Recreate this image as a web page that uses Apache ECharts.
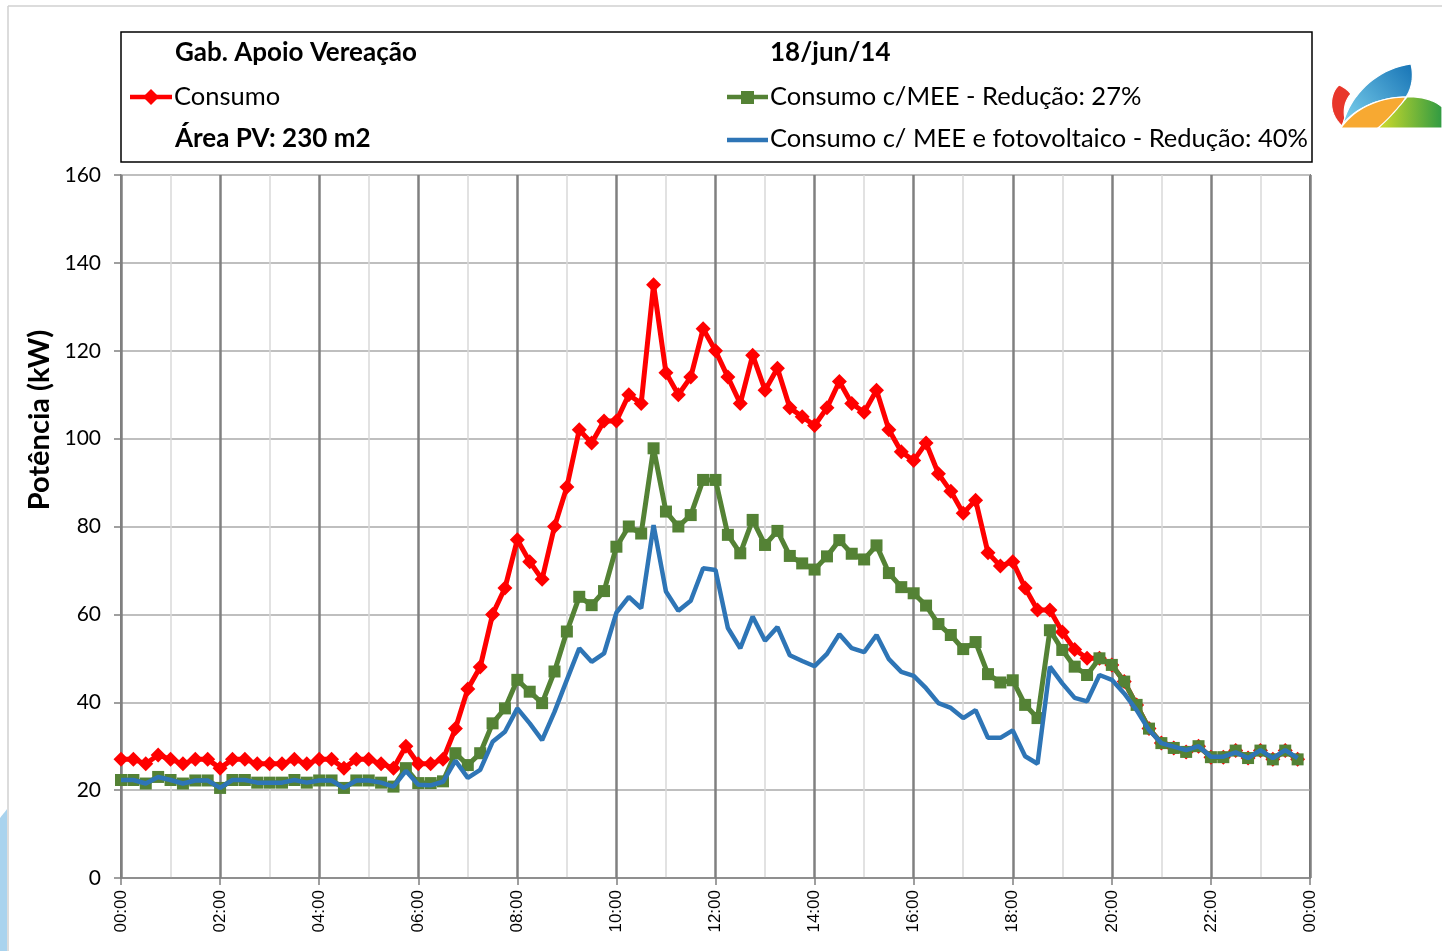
<!DOCTYPE html>
<html>
<head>
<meta charset="utf-8">
<title>Gab. Apoio Vereação – 18/jun/14</title>
<script src="https://cdn.jsdelivr.net/npm/echarts@6/dist/echarts.min.js"></script>
<style>
  html, body { margin: 0; padding: 0; background: #fff; }
  #chart { width: 1442px; height: 951px; }
</style>
</head>
<body>
<div id="chart"></div>
<script>
// 15-minute power readings (kW) for 18/jun/14, 00:00 .. 23:45
const consumo = [
  27, 27, 26, 28, 27, 26, 27, 27, 25, 27, 27, 26, 26, 26, 27, 26, 27, 27, 25, 27, 27, 26, 25, 30, 26, 26, 27,
  34, 43, 48, 60, 66, 77, 72, 68, 80, 89, 102, 99, 104, 104, 110, 108, 135, 115, 110, 114, 125, 120, 114, 108,
  119, 111, 116, 107, 105, 103, 107, 113, 108, 106, 111, 102, 97, 95, 99, 92, 88, 83, 86, 74, 71, 72, 66, 61,
  61, 56, 52, 50,
  50, 48.5, 44.7, 39.4, 34, 30.7, 29.6, 28.7, 30, 27.5, 27.5, 29, 27.3, 29, 27, 29, 27
];
const consumoMEE = [
  22.3, 22.3, 21.5, 23, 22.3, 21.5, 22.2, 22.2, 20.5, 22.3, 22.3, 21.7, 21.7, 21.7, 22.3, 21.7, 22.2, 22.2,
  20.5, 22.2, 22.2, 21.7, 20.8, 25, 21.6, 21.6, 22,
  28.4, 25.7, 28.4, 35.2, 38.6, 45.1, 42.4, 39.8, 47, 56.1,
  64, 62.1, 65.3, 75.4, 80, 78.4, 97.8, 83.4, 80, 82.6,
  90.6, 90.6, 78.1, 73.9, 81.5, 75.8, 79, 73.3, 71.6, 70.2,
  73.2, 76.9, 73.8, 72.5, 75.7, 69.4, 66.2, 64.8, 62, 57.8,
  55.3, 52.1, 53.7, 46.4, 44.5, 45, 39.4, 36.4, 56.4, 51.9,
  48.1, 46.2,
  50, 48.5, 44.7, 39.4, 34, 30.7, 29.6, 28.7, 30, 27.5, 27.5, 29, 27.3, 29, 27, 29, 27
];
const consumoMEEPV = [
  22.3, 22.3, 21.5, 23, 22.3, 21.5, 22.2, 22.2, 20.5, 22.3, 22.3, 21.7, 21.7, 21.7, 22.3, 21.7, 22.2, 22.2,
  20.5, 22.2, 22.2, 21.7, 20.8, 24.4, 21.2, 21.1, 21.9,
  26.7, 22.8, 24.6, 31, 33.3, 38.6, 35.2, 31.4, 37.8, 45.1,
  52.3, 49.2, 51.1, 60.4, 64, 61.4, 80.3, 65.2, 60.8, 63.1,
  70.5, 70.1, 56.9, 52.3, 59.5, 54, 57.1, 50.7, 49.4, 48.2,
  51, 55.5, 52.3, 51.4, 55.3, 49.8, 46.9, 46, 43.2, 39.8,
  38.7, 36.4, 38.2, 31.9, 31.9, 33.6, 27.7, 26, 48.1, 44.3,
  41, 40.2, 46.2, 45.1, 42, 38.2, 33.7, 30.7, 29.9, 29.1,
  30, 27.6, 27.6, 28.6, 27.3, 29.1, 27.3, 29.1, 27.3
];

const seriesNames = [
  'Consumo',
  'Consumo c/MEE - Redução: 27%',
  'Consumo c/ MEE e fotovoltaico - Redução: 40%'
];
const yTicks = [0, 20, 40, 60, 80, 100, 120, 140, 160];
const STEP_HOURS = 0.25;

const colors = { red: '#FF0000', green: '#548235', blue: '#2E75B6' };

// reading time (hours since midnight) for each sample
const hours = consumo.map((_, i) => i * STEP_HOURS);
const pairs = arr => arr.map((v, i) => [hours[i], v]);

const hhmm = v => String(Math.round(v) % 24).padStart(2, '0') + ':00';

// Flattens a chain of cubic Bézier segments into polygon points for the emblem.
function bezierOutline(start, segments, steps) {
  const pts = [start];
  let p0 = start;
  segments.forEach(seg => {
    if (seg.length === 1) { pts.push(seg[0]); p0 = seg[0]; return; }
    const [c1, c2, p3] = seg;
    for (let k = 1; k <= steps; k++) {
      const t = k / steps, u = 1 - t;
      pts.push([
        u * u * u * p0[0] + 3 * u * u * t * c1[0] + 3 * u * t * t * c2[0] + t * t * t * p3[0],
        u * u * u * p0[1] + 3 * u * u * t * c1[1] + 3 * u * t * t * c2[1] + t * t * t * p3[1]
      ]);
    }
    p0 = p3;
  });
  return pts;
}

const leafRed = bezierOutline([1339, 85], [
  [[1330, 93], [1327, 112], [1342, 126]],
  [[1345, 119]],
  [[1343, 110], [1345, 100], [1351, 94]],
  [[1348, 90], [1344, 87], [1339, 85]]
], 16);
const leafBlue = bezierOutline([1343, 124], [
  [[1349, 98], [1374, 69], [1411, 64]],
  [[1414, 76], [1412, 88], [1406, 97]],
  [[1385, 97], [1358, 105], [1343, 124]]
], 20);
const leafOrange = bezierOutline([1341, 128], [
  [[1355, 107], [1382, 97], [1406, 97]],
  [[1397, 113], [1388, 123], [1378, 128]]
], 20);
const leafGreen = bezierOutline([1378, 128], [
  [[1392, 116], [1401, 104], [1407, 97]],
  [[1422, 96], [1436, 101], [1442, 107]],
  [[1442, 128]]
], 20);
const cornerShape = bezierOutline([0, 818], [
  [[2, 815], [5, 812], [7, 809]],
  [[7, 951]],
  [[0, 951]]
], 8);

const chart = echarts.init(document.getElementById('chart'), null, { renderer: 'canvas' });

const textFont = 'Lato, "Open Sans", sans-serif';
const keyFont = '25.5px ' + textFont;
const headFont = 'bold 26px ' + textFont;
const emblemEdge = { stroke: '#ffffff', lineWidth: 1.2 };

const option = {
  animation: false,
  backgroundColor: '#ffffff',
  grid: {
    left: 121, right: 132, top: 175, bottom: 73,
    show: true, borderColor: '#262626', borderWidth: 1.5, backgroundColor: 'transparent'
  },
  xAxis: {
    type: 'value',
    min: 0, max: 24, interval: 2,
    axisLine: { show: true, onZero: false, lineStyle: { color: '#808080', width: 1.5 } },
    axisTick: { show: true, length: 7, lineStyle: { color: '#808080', width: 1.5 } },
    axisLabel: {
      rotate: 90, margin: 12, color: '#000',
      fontFamily: '"Liberation Sans", Arial, sans-serif', fontSize: 17,
      formatter: hhmm
    },
    splitLine: { show: true, lineStyle: { color: '#808080', width: 2.5 } },
    minorTick: { show: false, splitNumber: 2 },
    minorSplitLine: { show: true, lineStyle: { color: '#d9d9d9', width: 1.5 } }
  },
  yAxis: {
    type: 'value',
    min: yTicks[0], max: yTicks[yTicks.length - 1], interval: yTicks[1] - yTicks[0],
    axisLine: { show: true, lineStyle: { color: '#808080', width: 1.5 } },
    axisTick: { show: true, length: 7, lineStyle: { color: '#808080', width: 1.5 } },
    axisLabel: { margin: 20, color: '#000', fontFamily: textFont, fontSize: 21 },
    splitLine: { show: true, lineStyle: { color: '#bfbfbf', width: 2 } }
  },
  series: [
    {
      name: seriesNames[0], type: 'line', data: pairs(consumo), z: 2,
      symbol: 'diamond', symbolSize: 15, showSymbol: true,
      lineStyle: { color: colors.red, width: 5 },
      itemStyle: { color: colors.red }
    },
    {
      name: seriesNames[1], type: 'line', data: pairs(consumoMEE), z: 3,
      symbol: 'rect', symbolSize: 12, showSymbol: true,
      lineStyle: { color: colors.green, width: 5 },
      itemStyle: { color: colors.green }
    },
    {
      name: seriesNames[2], type: 'line', data: pairs(consumoMEEPV), z: 4,
      symbol: 'none',
      lineStyle: { color: colors.blue, width: 4.5 },
      itemStyle: { color: colors.blue }
    }
  ],
  graphic: [
    // page frame
    { type: 'line', silent: true, shape: { x1: 8, y1: 6, x2: 1442, y2: 6 }, style: { stroke: '#d0d0d0', lineWidth: 1.5 } },
    { type: 'line', silent: true, shape: { x1: 8, y1: 6, x2: 8, y2: 951 }, style: { stroke: '#d0d0d0', lineWidth: 1.5 } },
    { type: 'polygon', silent: true, shape: { points: cornerShape }, style: { fill: '#a9d3ee' } },

    // header box
    { type: 'rect', silent: true, shape: { x: 121, y: 32, width: 1191, height: 130 }, style: { fill: 'none', stroke: '#000', lineWidth: 1.5 } },
    { type: 'text', x: 175, y: 53, style: { text: 'Gab. Apoio Vereação', font: headFont, fill: '#000', verticalAlign: 'middle' } },
    { type: 'text', x: 770, y: 53, style: { text: '18/jun/14', font: headFont, fill: '#000', verticalAlign: 'middle' } },
    { type: 'text', x: 175, y: 139, style: { text: 'Área PV: 230 m2', font: headFont, fill: '#000', verticalAlign: 'middle' } },

    // series keys
    { type: 'line', silent: true, shape: { x1: 130, y1: 97, x2: 172, y2: 97 }, style: { stroke: colors.red, lineWidth: 4.5 } },
    { type: 'polygon', silent: true, shape: { points: [[151, 89], [159, 97], [151, 105], [143, 97]] }, style: { fill: colors.red } },
    { type: 'text', x: 174, y: 97, style: { text: seriesNames[0], font: keyFont, fill: '#000', verticalAlign: 'middle' } },

    { type: 'line', silent: true, shape: { x1: 727, y1: 97, x2: 768, y2: 97 }, style: { stroke: colors.green, lineWidth: 4.5 } },
    { type: 'rect', silent: true, shape: { x: 741, y: 91, width: 13, height: 13 }, style: { fill: colors.green } },
    { type: 'text', x: 770, y: 97, style: { text: seriesNames[1], font: keyFont, fill: '#000', verticalAlign: 'middle' } },

    { type: 'line', silent: true, shape: { x1: 727, y1: 140, x2: 768, y2: 140 }, style: { stroke: colors.blue, lineWidth: 4.5 } },
    { type: 'text', x: 770, y: 139, style: { text: seriesNames[2], font: keyFont, fill: '#000', verticalAlign: 'middle' } },

    // y axis title
    {
      type: 'text', x: 40, y: 420, rotation: Math.PI / 2,
      style: { text: 'Potência (kW)', font: 'bold 29px ' + textFont, fill: '#000', align: 'center', verticalAlign: 'middle' }
    },

    // emblem
    { type: 'polygon', silent: true, shape: { points: leafRed }, style: Object.assign({ fill: '#e8362a' }, emblemEdge) },
    {
      type: 'polygon', silent: true, shape: { points: leafBlue },
      style: Object.assign({ fill: { type: 'linear', x: 0, y: 1, x2: 1, y2: 0, colorStops: [{ offset: 0, color: '#7fd3ee' }, { offset: 1, color: '#1673b5' }] } }, emblemEdge)
    },
    { type: 'polygon', silent: true, shape: { points: leafOrange }, style: Object.assign({ fill: '#f7a932' }, emblemEdge) },
    {
      type: 'polygon', silent: true, shape: { points: leafGreen },
      style: Object.assign({ fill: { type: 'linear', x: 0, y: 0, x2: 1, y2: 0, colorStops: [{ offset: 0, color: '#d3dc2a' }, { offset: 1, color: '#2f9a43' }] } }, emblemEdge)
    }
  ]
};

chart.setOption(option);
</script>
</body>
</html>
